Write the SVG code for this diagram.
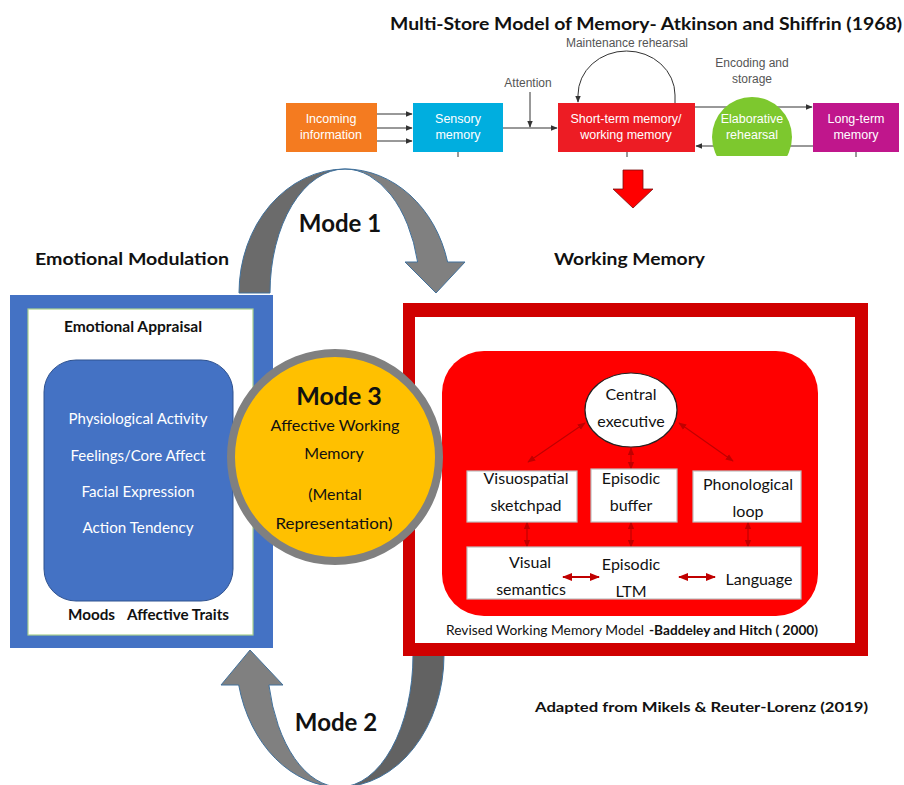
<svg xmlns="http://www.w3.org/2000/svg" width="904" height="785" viewBox="0 0 904 785">
  <style>
    .cal { font-family: Lato, "Open Sans", "Liberation Sans", sans-serif; }
    .b { font-weight: bold; }
    .flow { font-family: "Liberation Sans", Arial, sans-serif; font-size: 12.5px; fill: #ffffff; text-anchor: middle; }
    .note { font-family: "Liberation Sans", Arial, sans-serif; font-size: 12px; fill: #555555; text-anchor: middle; }
    .wl { fill: #ffffff; font-size: 15px; text-anchor: middle; }
    .blk { fill: #111111; }
    .mid { text-anchor: middle; }
    .thin { fill: none; stroke: #333333; stroke-width: 1; }
    .dr { fill: none; stroke: #C00000; stroke-width: 1.2; }
    .drb { fill: none; stroke: #C00000; stroke-width: 2; }
    .bend { stroke: #41719C; stroke-width: 1; }
    .wbox { fill: #ffffff; stroke: #BFBFBF; stroke-width: 1.2; }
  </style>
  <defs>
    <marker id="ah" viewBox="0 0 10 10" refX="9" refY="5" markerWidth="7" markerHeight="7" markerUnits="userSpaceOnUse" orient="auto">
      <path d="M0,1 L10,5 L0,9 Z" fill="#333333"/>
    </marker>
    <marker id="rh" viewBox="0 0 10 10" refX="9" refY="5" markerWidth="8" markerHeight="8" markerUnits="userSpaceOnUse" orient="auto-start-reverse">
      <path d="M0,1 L10,5 L0,9 Z" fill="#C00000"/>
    </marker>
    <marker id="rhb" viewBox="0 0 10 10" refX="9" refY="5" markerWidth="10" markerHeight="10" markerUnits="userSpaceOnUse" orient="auto-start-reverse">
      <path d="M0,1 L10,5 L0,9 Z" fill="#C00000"/>
    </marker>
    <clipPath id="clipElab">
      <rect x="700" y="90" width="110" height="66"/>
    </clipPath>
  </defs>

  <rect x="0" y="0" width="904" height="785" fill="#ffffff"/>

  <!-- Multi-store model (top) -->
  <text class="cal b blk" x="390" y="30" font-size="16.5" textLength="512" lengthAdjust="spacingAndGlyphs">Multi-Store Model of Memory- Atkinson and Shiffrin (1968)</text>

  <g id="ms-connectors">
    <line class="thin" x1="377" y1="114" x2="412" y2="114" marker-end="url(#ah)"/>
    <line class="thin" x1="377" y1="128" x2="412" y2="128" marker-end="url(#ah)"/>
    <line class="thin" x1="377" y1="141" x2="412" y2="141" marker-end="url(#ah)"/>
    <line class="thin" x1="503" y1="128" x2="557" y2="128" marker-end="url(#ah)"/>
    <line class="thin" x1="530" y1="92" x2="530" y2="127" marker-end="url(#ah)"/>
    <path class="thin" d="M675,103 L675,95 A48.5,44 0 0 0 578,95 L578,102" marker-end="url(#ah)"/>
    <line class="thin" x1="695" y1="107" x2="812" y2="107" marker-end="url(#ah)"/>
    <line class="thin" x1="813" y1="146" x2="696" y2="146" marker-end="url(#ah)"/>
    <line class="thin" x1="458" y1="152" x2="458" y2="157"/>
    <line class="thin" x1="627" y1="152" x2="627" y2="157"/>
    <line class="thin" x1="856" y1="152" x2="856" y2="157"/>
  </g>
  <text class="note" x="627" y="47" font-size="11.5">Maintenance rehearsal</text>
  <text class="note" x="528" y="87">Attention</text>
  <text class="note" x="752" y="67">Encoding and</text>
  <text class="note" x="752" y="83">storage</text>

  <g id="incoming">
    <rect x="286" y="103" width="91" height="49" fill="#F47B20"/>
    <text class="flow" x="331" y="123">Incoming</text>
    <text class="flow" x="331" y="139">information</text>
  </g>
  <g id="sensory">
    <rect x="413" y="103" width="90" height="49" fill="#00AEDF"/>
    <text class="flow" x="458" y="123">Sensory</text>
    <text class="flow" x="458" y="139">memory</text>
  </g>
  <g id="stm">
    <rect x="558" y="103" width="137" height="49" fill="#ED1C24"/>
    <text class="flow" x="626" y="123">Short-term memory/</text>
    <text class="flow" x="626" y="139">working memory</text>
  </g>
  <g id="elaborative">
    <circle cx="752" cy="137" r="40" fill="#7DC82E" clip-path="url(#clipElab)"/>
    <text class="flow" x="752" y="123">Elaborative</text>
    <text class="flow" x="752" y="139">rehearsal</text>
  </g>
  <g id="ltm">
    <rect x="813" y="103" width="86" height="49" fill="#C0168C"/>
    <text class="flow" x="856" y="123">Long-term</text>
    <text class="flow" x="856" y="139">memory</text>
  </g>

  <g id="down-arrow">
    <path d="M623,170 L643,170 L643,189 L653,189 L633,208 L613,189 L623,189 Z" fill="#FF0000" stroke="#7a1010" stroke-width="0.8"/>
  </g>

  <!-- Mode arrows -->
  <g id="mode-arrows">
    <!-- Mode 1: from emotional modulation over to working memory -->
    <path class="bend" d="M239,293 A106,124 0 0 1 345,169 A75,124 0 0 0 270,293 Z" fill="#6B6B6B"/>
    <path class="bend" d="M345,169 A106,124 0 0 1 447.6,262 L465,262 L436,293 L405,262 L417.6,262 A75,124 0 0 0 345,169 Z" fill="#808080"/>
    <!-- Mode 2: from working memory back to emotional modulation -->
    <path class="bend" d="M444,655 A104,132 0 0 1 340,787 A73,132 0 0 0 413,655 Z" fill="#626262"/>
    <path class="bend" d="M340,787 A104,132 0 0 1 238.7,685 L221,685 L250,650 L283,685 L268.9,685 A73,132 0 0 0 340,787 Z" fill="#808080"/>
  </g>
  <text class="cal b blk mid" x="340" y="232" font-size="24">Mode 1</text>
  <text class="cal b blk mid" x="336" y="731" font-size="24">Mode 2</text>

  <text class="cal b blk" x="35" y="265" font-size="17" textLength="194" lengthAdjust="spacingAndGlyphs">Emotional Modulation</text>
  <text class="cal b blk" x="554" y="265" font-size="17" textLength="151" lengthAdjust="spacingAndGlyphs">Working Memory</text>

  <!-- Emotional modulation panel -->
  <g id="emotional-modulation">
    <rect x="10" y="295" width="263" height="353" fill="#4472C4"/>
    <rect x="28" y="309" width="225" height="326" fill="#ffffff" stroke="#A9D18E" stroke-width="1.2"/>
    <text class="cal b blk" x="64" y="332" font-size="15" textLength="138" lengthAdjust="spacingAndGlyphs">Emotional Appraisal</text>
    <rect x="44" y="360" width="189" height="241" rx="32" fill="#4472C4" stroke="#2F528F" stroke-width="1"/>
    <text class="cal wl" x="138" y="424" textLength="139" lengthAdjust="spacingAndGlyphs">Physiological Activity</text>
    <text class="cal wl" x="138" y="461" textLength="135" lengthAdjust="spacingAndGlyphs">Feelings/Core Affect</text>
    <text class="cal wl" x="138" y="497" textLength="113" lengthAdjust="spacingAndGlyphs">Facial Expression</text>
    <text class="cal wl" x="138" y="533" textLength="111" lengthAdjust="spacingAndGlyphs">Action Tendency</text>
    <text class="cal b blk" x="68" y="620" font-size="15" textLength="47" lengthAdjust="spacingAndGlyphs">Moods</text>
    <text class="cal b blk" x="127" y="620" font-size="15" textLength="102" lengthAdjust="spacingAndGlyphs">Affective Traits</text>
  </g>

  <!-- Working memory panel -->
  <g id="working-memory">
    <rect x="403" y="303" width="465" height="353" fill="#D00000"/>
    <rect x="415" y="317" width="440" height="326" fill="#ffffff"/>
    <rect x="442" y="351" width="376" height="265" rx="42" fill="#FF0000"/>
    <text class="cal blk" x="446" y="635" font-size="13" textLength="198" lengthAdjust="spacingAndGlyphs">Revised Working Memory Model</text>
    <text class="cal b blk" x="649" y="635" font-size="13" textLength="169" lengthAdjust="spacingAndGlyphs">-Baddeley and Hitch ( 2000)</text>
  </g>

  <g id="wm-connectors">
    <line class="dr" x1="585" y1="423" x2="528" y2="462" marker-start="url(#rh)" marker-end="url(#rh)"/>
    <line class="dr" x1="631" y1="448" x2="631" y2="469" marker-start="url(#rh)" marker-end="url(#rh)"/>
    <line class="dr" x1="679" y1="423" x2="733" y2="461" marker-start="url(#rh)" marker-end="url(#rh)"/>
    <line class="dr" x1="527" y1="522" x2="527" y2="547" marker-start="url(#rh)" marker-end="url(#rh)"/>
    <line class="dr" x1="631" y1="522" x2="631" y2="547" marker-start="url(#rh)" marker-end="url(#rh)"/>
    <line class="dr" x1="748" y1="522" x2="748" y2="547" marker-start="url(#rh)" marker-end="url(#rh)"/>
  </g>

  <g id="central-executive">
    <ellipse cx="631" cy="410" rx="46" ry="37" fill="#ffffff" stroke="#222222" stroke-width="1.2"/>
    <text class="cal blk mid" x="631" y="400" font-size="16">Central</text>
    <text class="cal blk mid" x="631" y="427" font-size="16">executive</text>
  </g>
  <g id="visuospatial">
    <rect class="wbox" x="467" y="471" width="110" height="51"/>
    <text class="cal blk mid" x="526" y="484" font-size="16">Visuospatial</text>
    <text class="cal blk mid" x="526" y="511" font-size="16">sketchpad</text>
  </g>
  <g id="episodic-buffer">
    <rect class="wbox" x="591" y="469" width="86" height="53"/>
    <text class="cal blk mid" x="631" y="484" font-size="16">Episodic</text>
    <text class="cal blk mid" x="631" y="511" font-size="16">buffer</text>
  </g>
  <g id="phonological">
    <rect class="wbox" x="693" y="471" width="108" height="51"/>
    <text class="cal blk mid" x="748" y="490" font-size="16">Phonological</text>
    <text class="cal blk mid" x="748" y="517" font-size="16">loop</text>
  </g>
  <g id="ltm-stores">
    <rect class="wbox" x="467" y="547" width="334" height="52"/>
    <text class="cal blk mid" x="530" y="568" font-size="16">Visual</text>
    <text class="cal blk mid" x="531" y="595" font-size="16">semantics</text>
    <text class="cal blk mid" x="631" y="570" font-size="16">Episodic</text>
    <text class="cal blk mid" x="631" y="597" font-size="16">LTM</text>
    <text class="cal blk mid" x="759" y="585" font-size="16">Language</text>
    <line class="drb" x1="563" y1="577" x2="599" y2="577" marker-start="url(#rhb)" marker-end="url(#rhb)"/>
    <line class="drb" x1="679" y1="577" x2="715" y2="577" marker-start="url(#rhb)" marker-end="url(#rhb)"/>
  </g>

  <!-- Mode 3: affective working memory -->
  <g id="mode3">
    <circle cx="335" cy="457" r="104" fill="#FFC000" stroke="#808080" stroke-width="8"/>
    <text class="cal b blk mid" x="339" y="405" font-size="25">Mode 3</text>
    <text class="cal blk mid" x="335" y="431" font-size="16" textLength="129" lengthAdjust="spacingAndGlyphs">Affective Working</text>
    <text class="cal blk mid" x="334" y="459" font-size="16">Memory</text>
    <text class="cal blk mid" x="335" y="500" font-size="16">(Mental</text>
    <text class="cal blk mid" x="334" y="529" font-size="16" textLength="117" lengthAdjust="spacingAndGlyphs">Representation)</text>
  </g>

  <text class="cal b blk" x="535" y="712" font-size="14" textLength="333" lengthAdjust="spacingAndGlyphs">Adapted from Mikels &amp; Reuter-Lorenz (2019)</text>
</svg>
